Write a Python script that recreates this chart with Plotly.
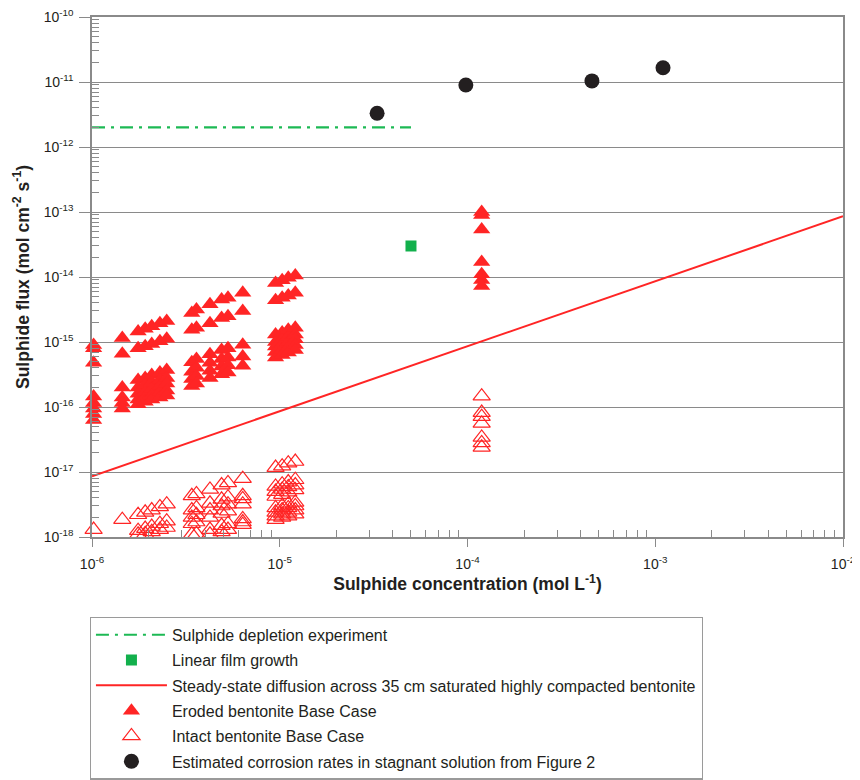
import plotly.graph_objects as go

# ---------------- data ----------------
conc = [1.02e-6, 1.45e-6, 1.76e-6, 1.92e-6, 2.08e-6, 2.3e-6, 2.5e-6,
        3.4e-6, 3.6e-6, 4.25e-6, 4.9e-6, 5.3e-6, 6.35e-6,
        9.5e-6, 1.03e-5, 1.11e-5, 1.21e-5, 1.19e-4]

eroded_flux = [
    [9.0e-16, 8.0e-16, 4.8e-16, 1.45e-16, 1.15e-16, 9.5e-17, 7.8e-17, 6.3e-17],
    [1.15e-15, 6.6e-16, 2.0e-16, 1.4e-16, 1.15e-16, 9.5e-17],
    [1.45e-15, 8.0e-16, 2.6e-16, 2.0e-16, 1.6e-16, 1.3e-16, 1.1e-16],
    [1.6e-15, 8.6e-16, 2.8e-16, 2.2e-16, 1.7e-16, 1.4e-16, 1.2e-16],
    [1.75e-15, 9.3e-16, 3.1e-16, 2.4e-16, 1.9e-16, 1.5e-16, 1.3e-16],
    [1.95e-15, 1.03e-15, 3.4e-16, 2.6e-16, 2.1e-16, 1.7e-16, 1.4e-16],
    [2.1e-15, 1.12e-15, 3.7e-16, 2.8e-16, 2.3e-16, 1.8e-16, 1.5e-16],
    [2.8e-15, 1.55e-15, 4.9e-16, 3.5e-16, 2.7e-16, 2.1e-16],
    [3.15e-15, 1.65e-15, 5.5e-16, 4.0e-16, 3.0e-16, 2.3e-16],
    [3.8e-15, 1.95e-15, 6.5e-16, 4.8e-16, 3.6e-16, 2.8e-16],
    [4.5e-15, 2.35e-15, 7.5e-16, 5.5e-16, 4.2e-16, 3.2e-16],
    [4.8e-15, 2.5e-15, 8.0e-16, 5.8e-16, 4.4e-16, 3.4e-16],
    [5.7e-15, 3.0e-15, 9.1e-16, 6.0e-16, 4.3e-16],
    [8.1e-15, 4.4e-15, 1.3e-15, 1.0e-15, 8.5e-16, 7.0e-16, 5.8e-16],
    [8.9e-15, 4.8e-15, 1.4e-15, 1.1e-15, 9.2e-16, 7.6e-16, 6.3e-16],
    [9.7e-15, 5.2e-15, 1.55e-15, 1.2e-15, 1.0e-15, 8.3e-16, 6.9e-16],
    [1.05e-14, 5.7e-15, 1.65e-15, 1.3e-15, 1.1e-15, 9.0e-16, 7.5e-16],
    [1.0e-13, 9.0e-14, 5.4e-14, 1.7e-14, 1.1e-14, 9.0e-15, 7.3e-15],
]

intact_flux = [
    [1.3e-18],
    [1.85e-18],
    [2.2e-18, 1.25e-18, 1.1e-18],
    [2.4e-18, 1.35e-18, 1.12e-18],
    [2.6e-18, 1.45e-18, 1.2e-18],
    [2.9e-18, 1.6e-18, 1.3e-18],
    [3.2e-18, 1.75e-18, 1.4e-18],
    [4.3e-18, 2.6e-18, 2.0e-18, 1.6e-18, 1.1e-18],
    [4.6e-18, 2.8e-18, 2.2e-18, 1.7e-18, 1.12e-18],
    [5.4e-18, 3.3e-18, 2.6e-18, 2.0e-18, 1.3e-18, 1.1e-18],
    [6.3e-18, 3.8e-18, 3.0e-18, 2.3e-18, 1.5e-18, 1.2e-18],
    [6.8e-18, 4.1e-18, 3.2e-18, 2.5e-18, 1.6e-18, 1.3e-18],
    [7.9e-18, 4.3e-18, 3.85e-18, 3.2e-18, 1.9e-18, 1.7e-18, 1.55e-18],
    [1.17e-17, 6.0e-18, 5.0e-18, 4.2e-18, 2.8e-18, 2.4e-18, 2.1e-18, 1.85e-18],
    [1.23e-17, 6.5e-18, 5.4e-18, 4.5e-18, 3.0e-18, 2.6e-18, 2.25e-18, 2.0e-18],
    [1.37e-17, 7.0e-18, 5.9e-18, 4.9e-18, 3.2e-18, 2.8e-18, 2.4e-18, 2.1e-18],
    [1.45e-17, 7.6e-18, 6.3e-18, 5.3e-18, 3.4e-18, 3.0e-18, 2.6e-18, 2.25e-18],
    [1.47e-16, 8.2e-17, 7.1e-17, 5.6e-17, 3.4e-17, 2.8e-17, 2.4e-17],
]

depletion_x = [1e-6, 5e-5]
depletion_y = [2.0e-12, 2.0e-12]

film_x = [5e-5]
film_y = [3.0e-14]

diffusion_x = [1e-6, 1e-2]
diffusion_y = [8.6e-18, 8.6e-14]

corrosion_x = [3.3e-5, 9.8e-5, 4.6e-4, 1.1e-3]
corrosion_y = [3.3e-12, 9.0e-12, 1.04e-11, 1.66e-11]

x_tickvals = [1e-6, 1e-5, 1e-4, 1e-3, 1e-2]
x_ticktext = ["10<sup>-6</sup>", "10<sup>-5</sup>", "10<sup>-4</sup>",
              "10<sup>-3</sup>", "10<sup>-2</sup>"]
y_tickvals = [1e-18, 1e-17, 1e-16, 1e-15, 1e-14, 1e-13, 1e-12, 1e-11, 1e-10]
y_ticktext = ["10<sup>-18</sup>", "10<sup>-17</sup>", "10<sup>-16</sup>",
              "10<sup>-15</sup>", "10<sup>-14</sup>", "10<sup>-13</sup>",
              "10<sup>-12</sup>", "10<sup>-11</sup>", "10<sup>-10</sup>"]

# ---------------- build ----------------
def flatten(xs, groups):
    ox, oy = [], []
    for x, g in zip(xs, groups):
        for v in g:
            ox.append(x)
            oy.append(v)
    return ox, oy

ex, ey = flatten(conc, eroded_flux)
ix, iy = flatten(conc, intact_flux)

RED = "#ff2525"
GREEN = "#1db954"
GREEN_SQ = "#12b04c"
GRID = "#8a8a8a"
TXT = "#231f20"
FONT = "Liberation Sans, Arial, sans-serif"

fig = go.Figure()

fig.add_trace(go.Scatter(
    x=depletion_x, y=depletion_y, mode="lines", legendgroup="g1",
    name="Sulphide depletion experiment",
    line=dict(color=GREEN, width=2.2, dash="13px,6px,3px,6px")))

fig.add_trace(go.Scatter(
    x=film_x, y=film_y, mode="markers", name="Linear film growth",
    legendgroup="g2",
    marker=dict(symbol="square", size=11, color=GREEN_SQ)))

fig.add_trace(go.Scatter(
    x=diffusion_x, y=diffusion_y, mode="lines", legendgroup="g3",
    name="Steady-state diffusion across 35 cm saturated highly compacted bentonite",
    line=dict(color=RED, width=2)))

fig.add_trace(go.Scatter(
    x=ex, y=ey, mode="markers", name="Eroded bentonite Base Case",
    legendgroup="g4", cliponaxis=False,
    marker=dict(symbol="triangle-up", size=15, color=RED, line=dict(width=0))))

fig.add_trace(go.Scatter(
    x=ix, y=iy, mode="markers", name="Intact bentonite Base Case",
    legendgroup="g5", cliponaxis=False,
    marker=dict(symbol="triangle-up-open", size=15, color=RED,
                line=dict(width=1.2, color=RED))))

fig.add_trace(go.Scatter(
    x=corrosion_x, y=corrosion_y, mode="markers", legendgroup="g6",
    name="Estimated corrosion rates in stagnant solution from Figure 2",
    marker=dict(symbol="circle", size=15, color=TXT)))

minor_x = [k * 10.0 ** e for e in range(-6, -2) for k in range(2, 10)]
minor_y = [k * 10.0 ** e for e in range(-18, -10) for k in range(2, 10)]

fig.update_xaxes(
    type="log", range=[-6, -2], automargin=False,
    tickmode="array", tickvals=x_tickvals, ticktext=x_ticktext,
    ticks="outside", ticklen=8, tickcolor=GRID, tickwidth=1,
    ticklabelstandoff=5, ticklabeloverflow="allow",
    showline=True, linecolor=GRID, linewidth=1.5, mirror=True,
    showgrid=False, zeroline=False,
    tickfont=dict(size=14, color=TXT, family=FONT),
    minor=dict(tickmode="array", tickvals=minor_x, ticks="inside",
               ticklen=7, tickcolor=GRID, showgrid=False),
    title=dict(text="<b>Sulphide concentration (mol L<sup>-1</sup>)</b>",
               font=dict(size=17.5, color=TXT, family=FONT), standoff=6),
)

fig.update_yaxes(
    type="log", range=[-18, -10], automargin=False,
    tickmode="array", tickvals=y_tickvals, ticktext=y_ticktext,
    ticks="outside", ticklen=11, tickcolor=GRID, tickwidth=1,
    ticklabelstandoff=3, ticklabeloverflow="allow",
    showline=True, linecolor=GRID, linewidth=1.5, mirror=True,
    showgrid=True, gridcolor=GRID, gridwidth=1, zeroline=False,
    tickfont=dict(size=14, color=TXT, family=FONT),
    minor=dict(tickmode="array", tickvals=minor_y, ticks="inside",
               ticklen=7, tickcolor=GRID, showgrid=False),
    title=dict(text="<b>Sulphide flux (mol cm<sup>-2</sup> s<sup>-1</sup>)</b>",
               font=dict(size=17.5, color=TXT, family=FONT), standoff=10),
)

fig.update_layout(
    width=860, height=780,
    margin=dict(l=84, r=25, t=9, b=250),
    paper_bgcolor="white", plot_bgcolor="white",
    font=dict(family=FONT, color=TXT),
    showlegend=True,
    legend=dict(
        x=-0.003, y=-0.151, xanchor="left", yanchor="top",
        bordercolor="#9a9a9a", borderwidth=1.2,
        font=dict(size=16, color=TXT, family=FONT),
        itemwidth=71, tracegroupgap=1.5,
        bgcolor="white",
    ),
)

fig.write_html("out.html")
